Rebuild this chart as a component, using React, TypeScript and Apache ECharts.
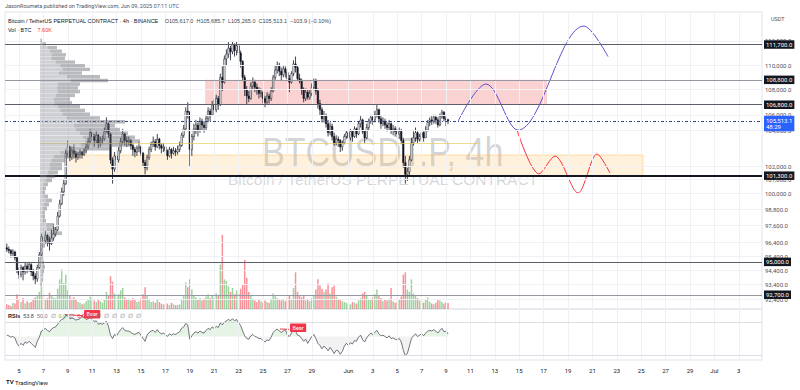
import { useEffect, useRef } from "react";
import * as echarts from "echarts";

// ---------- DATA ----------
// time unit: days of May 2025 (May 4 00:00 UTC = 4, Jun 1 = 32, Jul 1 = 62)
const START_DAY = 4;
const BAR_DAYS = 1 / 6; // 4h candles
const FIRST_OPEN = 96000;

const closes = [
  95900, 95800, 95600, 95700, 95300, 94400,
  94100, 94600, 94300, 94700, 94500, 94800,
  94300, 94000, 93800, 94600, 95500, 96800,
  96500, 96900, 96600, 96300, 96700, 97000,
  97300, 98300, 99200, 100100, 100700, 103000,
  103500, 102700, 103200, 103000, 102700, 102900,
  103100, 102900, 103200, 103500, 103900, 104600,
  104300, 104000, 104400, 103800, 104000, 104100,
  104700, 105300, 104500, 102500, 101800, 102800,
  102500, 103200, 103900, 104500, 104000, 103900,
  104000, 103600, 103300, 103100, 103400, 103500,
  103000, 102300, 101900, 102700, 103300, 103700,
  103900, 103500, 104100, 103600, 103400, 103500,
  103200, 102800, 103300, 103000, 103200, 103100,
  103300, 103600, 104400, 104900, 106300, 106200,
  103300, 104300, 104900, 105200, 104800, 105500,
  105200, 105000, 105700, 106300, 106000, 106800,
  106400, 107300, 106800, 109000, 108600, 110500,
  110900, 111400, 111100, 111700, 111200, 111600,
  111000, 110300, 109000, 108000, 107500, 107300,
  108300, 108600, 108200, 108000, 107700, 107800,
  107300, 107000, 107500, 107300, 107900, 109000,
  109600, 110000, 109500, 109200, 109700, 109400,
  108900, 108600, 109300, 110100, 109800, 108900,
  108700, 108000, 107300, 107800, 107400, 107700,
  108200, 108700, 107900, 106900, 106400, 105700,
  105900, 105300, 104600, 105100, 104300, 103800,
  104100, 104000, 103500, 103800, 104300, 104600,
  104200, 104700, 104300, 104900, 104500, 105300,
  105600, 104700, 104200, 105000, 105500, 105800,
  105600, 106000, 106400, 105700, 105300, 105500,
  105200, 105000, 105300, 104800, 104900, 104700,
  104500, 104700, 104000, 102300, 101400, 101600,
  102500, 103800, 104200, 104600, 104100, 104300,
  104600, 104200, 104800, 105400, 105600, 105500,
  105800, 105600, 105200, 105900, 106200, 105700,
  105617, 105513.1,
];
const highs = [
  96300, 96100, 95900, 95900, 95800, 95400,
  94600, 94800, 94700, 95000, 94900, 95000,
  94900, 94500, 94200, 94800, 95700, 97000,
  97100, 97200, 97000, 96800, 97300, 97700,
  97500, 98600, 99500, 100400, 101000, 103300,
  104000, 103600, 103500, 103700, 103200, 103100,
  103300, 103200, 103400, 103800, 104200, 104900,
  104800, 104500, 104700, 104500, 104300, 104400,
  105000, 105800, 105400, 104600, 102700, 103100,
  103100, 103500, 104200, 104900, 104600, 104300,
  104300, 104100, 103800, 103500, 103600, 103900,
  103600, 103100, 102500, 102900, 103500, 103900,
  104300, 104100, 104500, 104200, 103800, 103800,
  103600, 103300, 103500, 103400, 103500, 103400,
  103600, 103900, 104600, 105200, 106600, 107000,
  106300, 104500, 105300, 105600, 105400, 105800,
  105700, 105500, 106000, 106600, 106500, 107100,
  107200, 107600, 107500, 109300, 109900, 110800,
  111300, 111900, 111600, 111980, 111800, 111900,
  111700, 111200, 110400, 109200, 108300, 107900,
  108600, 109000, 108800, 108500, 108200, 108100,
  107900, 107500, 107800, 107700, 108200, 109200,
  110000, 110300, 110200, 109800, 110000, 109900,
  109600, 109200, 109500, 110400, 110700, 110000,
  109300, 108900, 108200, 108100, 108000, 108000,
  108500, 108900, 108900, 108100, 107200, 106600,
  106300, 106100, 105600, 105400, 105300, 104600,
  104400, 104300, 104100, 104000, 104500, 104800,
  104800, 104900, 104800, 105100, 105000, 105500,
  105900, 105700, 104800, 105300, 105700, 106000,
  106000, 106300, 106800, 106500, 105900, 105800,
  105700, 105400, 105600, 105400, 105200, 105100,
  105000, 105000, 104900, 104200, 102800, 101900,
  102800, 104200, 104700, 105000, 104700, 104500,
  104800, 104700, 105100, 105600, 105800, 105900,
  106000, 106000, 105800, 106100, 106400, 106300,
  105900, 105685.7,
];
const lows = [
  95700, 95600, 95300, 95400, 95100, 94200,
  93800, 93900, 93700, 94100, 94200, 94300,
  94000, 93700, 93400, 93600, 94500, 95400,
  96200, 96300, 96100, 95800, 96200, 96500,
  96800, 97200, 98200, 99100, 99800, 100600,
  102700, 102400, 102500, 102600, 102300, 102500,
  102600, 102600, 102800, 103000, 103300, 103800,
  104000, 103500, 103800, 103400, 103500, 103700,
  104000, 104600, 104200, 102200, 100700, 101600,
  101500, 102300, 103000, 103700, 103600, 103500,
  103600, 103300, 102800, 102700, 102800, 103100,
  102800, 102000, 101400, 101700, 102500, 103100,
  103500, 103200, 103400, 103300, 103000, 103100,
  102900, 102500, 102700, 102600, 102900, 102800,
  102900, 103100, 103500, 104200, 104800, 105700,
  102000, 102800, 104000, 104500, 104300, 104600,
  104800, 104600, 104800, 105400, 105500, 105900,
  106000, 106200, 106400, 106700, 107900, 108500,
  110000, 110600, 110400, 110900, 110700, 110800,
  110500, 109800, 108700, 107500, 106800, 107000,
  107200, 108000, 107800, 107600, 107300, 107400,
  106900, 106600, 106800, 106900, 107100, 107800,
  108800, 109300, 109100, 108700, 109000, 109000,
  108600, 107800, 108500, 109100, 109400, 108700,
  108500, 107600, 107000, 107100, 107200, 107200,
  107500, 108000, 107600, 106500, 106000, 105400,
  105400, 105000, 104300, 104400, 104000, 103600,
  103600, 103500, 103100, 103200, 103700, 104100,
  103900, 104000, 103900, 104200, 104200, 104400,
  105000, 104500, 103800, 104100, 104800, 105300,
  105200, 105400, 105800, 105400, 104900, 105100,
  104900, 104700, 104800, 104500, 104400, 104300,
  104200, 104100, 103700, 101900, 100700, 100900,
  101300, 102400, 103600, 103900, 103800, 103900,
  104100, 103900, 104200, 104700, 105100, 105200,
  105300, 105300, 105000, 105100, 105700, 105500,
  105100, 105265,
];
// volume, thousand BTC
const volumesK = [
  6, 5, 4, 8, 7, 19,
  12, 9, 14, 7, 10, 8,
  9, 13, 15, 18, 22, 29,
  16, 12, 14, 21, 18, 15,
  14, 26, 38, 51, 33, 44,
  24, 18, 13, 15, 12, 9,
  8, 6, 7, 10, 12, 16,
  14, 11, 9, 13, 10, 8,
  12, 22, 18, 42, 35, 20,
  16, 19, 24, 27, 15, 12,
  13, 11, 14, 12, 9, 10,
  14, 19, 28, 17, 13, 9,
  10, 8, 12, 9, 7, 6,
  6, 7, 5, 8, 6, 5,
  5, 6, 13, 18, 34, 28,
  38, 25, 17, 15, 12, 14,
  11, 13, 16, 19, 14, 17,
  15, 20, 17, 57, 95, 38,
  36, 29, 22, 27, 19, 24,
  20, 26, 32, 63, 40, 22,
  18, 13, 11, 9, 12, 10,
  8, 11, 9, 8, 13, 20,
  17, 14, 12, 11, 13, 10,
  15, 18, 13, 27, 47, 22,
  18, 15, 17, 11, 13, 10,
  14, 18, 25, 38, 30, 26,
  22, 25, 33, 20, 28, 30,
  16, 13, 12, 10, 9, 8,
  7, 6, 9, 8, 7, 11,
  14, 20, 22, 17, 13, 12,
  15, 19, 25, 18, 14, 10,
  12, 11, 13, 27, 10, 8,
  9, 12, 16, 44, 47, 25,
  22, 38, 20, 18, 14, 11,
  10, 8, 12, 15, 9, 7,
  6, 8, 12, 11, 9, 7,
  9, 7.6,
];
const rsiValues = [
  52, 51, 49, 50, 48, 40,
  36, 40, 37, 42, 40, 43,
  40, 37, 34, 43, 49, 58,
  60, 62, 59, 57, 61, 63,
  64, 68, 72, 75, 76, 81,
  80, 76, 77, 76, 74, 75,
  76, 80, 78, 75, 76, 78,
  75, 72, 73, 68, 69, 68,
  70, 72, 65, 52, 47, 53,
  51, 56, 60, 63, 59, 58,
  58, 56, 54, 53, 55, 56,
  52, 47, 43, 52, 56, 58,
  59, 56, 60, 56, 54, 55,
  53, 50, 54, 52, 54, 53,
  55, 57, 62, 64, 69, 67,
  46, 51, 55, 57, 55, 58,
  56, 55, 59, 62, 60, 64,
  62, 65, 63, 70, 67, 71,
  73, 75, 73, 76, 73, 75,
  70, 66, 58, 51, 47, 46,
  51, 53, 50, 49, 47, 47,
  44, 42, 45, 44, 49, 56,
  59, 61, 58, 56, 58, 60,
  52, 50, 55, 60, 58, 52,
  51, 47, 43, 46, 40, 45,
  50, 53, 47, 40, 37, 32,
  36, 33, 29, 34, 30, 25,
  30, 29, 24, 28, 36, 40,
  37, 41, 39, 44, 43, 49,
  52, 45, 42, 48, 52, 55,
  53, 56, 59, 54, 51, 52,
  50, 48, 51, 47, 48, 46,
  45, 47, 42, 30, 22, 25,
  36, 47, 51, 54, 50, 52,
  54, 51, 55, 58, 59, 58,
  60, 58, 55, 59, 62, 57,
  58, 53.8,
];

// visible-range volume profile: rows of 300 USDT from 93,300 upward (thousand BTC)
const PROFILE_LOW = 93300;
const PROFILE_STEP = 300;
const profileVolK = [
  2, 3, 3, 4, 5, 4, 3, 3, 2, 5, 10, 12, 22, 15, 14, 6, 5, 5, 7, 9, 12, 8,
  5, 6, 8, 12, 15, 18, 22, 22, 25, 30, 45, 70, 90, 100, 95, 88, 80, 75, 85,
  60, 50, 45, 40, 32, 30, 35, 40, 38, 40, 68, 60, 42, 50, 45, 35, 25, 26, 22,
  17, 6, 2,
];
const pocPrice = 103800;
const pocSpan = [6.7, 42.8];

const priceAxisLabels = [
  112000, 110000, 108000, 106000, 104800, 102000, 101000, 100000, 98800,
  97600, 96400, 95400, 94400, 93400, 92400,
];
const levelLines = [111700, 108800, 106800, 101300, 95000, 92700];
const lastPrice = 105513.1;
const countdown = "48:29";

const redZone = { from: 20.25, to: 48.28, top: 108800, bottom: 106800 };
const yellowZone = { from: 8.85, to: 56.15, top: 102870, bottom: 101300 };

const bullPath = [
  [41.0, 105513], [43.28, 108460], [45.9, 104800], [51.31, 113250], [53.28, 110700],
];
const bearPath = [
  [45.82, 104800], [47.62, 101430], [48.93, 102790], [50.82, 100000], [52.38, 102950], [53.44, 101500],
];
const rsiBearLines = [
  [[8.77, 82], [10.25, 80.5]],
  [[26.39, 61], [27.13, 60.5]],
];

const timeLabelDays = [5, 7, 9, 11, 13, 15, 17, 19, 21, 23, 25, 27, 29, 32, 34, 36, 38, 40, 42, 44, 46, 48, 50, 52, 54, 56, 58, 60, 62, 64];
const rsiAxisLabels = [80, 40, 20];
const rsiGridLines = [71, 23];

// ---------- LAYOUT ----------
const FONT = "Roboto, 'Liberation Sans', sans-serif";
const PLOT_L = 5;
const PLOT_W = 757;
const TOP = 12;
const SPLIT = 309;
const RSI_H = 51;
const XMIN = 3.8525;
const XMAX = 65.9016;
const PMIN = 91721;
const PMAX = 114441;
const RMIN = 15.59;
const RMAX = 90.26;

const fmt = (v: number) =>
  v.toLocaleString("en-US", { minimumFractionDigits: 1, maximumFractionDigits: 1 });

const dayLabel = (v: number) => {
  const d = Math.round(v);
  if (d === 32) return "Jun";
  if (d === 62) return "Jul";
  if (d > 62) return String(d - 61);
  if (d > 31) return String(d - 31);
  return String(d);
};

export default function App() {
  const ref = useRef<HTMLDivElement>(null);

  useEffect(() => {
    const chart = echarts.init(ref.current!, undefined, { renderer: "svg" });

    const candles = closes.map((c, i) => {
      const o = i === 0 ? FIRST_OPEN : closes[i - 1];
      return [START_DAY + i * BAR_DAYS, o, c, lows[i], highs[i]];
    });
    const vols = volumesK.map((v, i) => [START_DAY + i * BAR_DAYS, v, candles[i][2] >= candles[i][1] ? 1 : 0]);
    const rsi = rsiValues.map((r, i) => [START_DAY + i * BAR_DAYS, r]);
    const rsiAbove = rsi.map(([x, r]) => [x, Math.max(r, 50)]);
    const rsiBelow = rsi.map(([x, r]) => [x, Math.min(r, 50)]);
    const profile = profileVolK.map((v, k) => [PROFILE_LOW + k * PROFILE_STEP, PROFILE_LOW + (k + 1) * PROFILE_STEP, v]);

    const smallLabel = { fontSize: 6, fontFamily: FONT };
    const blackLabel = (v: number) => ({
      show: true,
      position: "end",
      distance: 2,
      formatter: fmt(v),
      color: "#ffffff",
      backgroundColor: "#131722",
      padding: [1.5, 2, 1, 2],
      ...smallLabel,
    });
    const levelStyle: Record<number, any> = {
      111700: { color: "#5d606b", width: 1 },
      108800: { color: "#9598a1", width: 1 },
      106800: { color: "#5d606b", width: 1 },
      101300: { color: "#131722", width: 2 },
      95000: { color: "#5d606b", width: 1 },
      92700: { color: "#9598a1", width: 1 },
    };

    const option: any = {
      animation: false,
      textStyle: { fontFamily: FONT },
      grid: [
        { left: PLOT_L, top: TOP, width: PLOT_W, height: SPLIT - TOP, show: true, borderColor: "#e0e3eb", borderWidth: 1 },
        { left: PLOT_L, top: 231, width: PLOT_W, height: SPLIT - 231, show: false },
        { left: 40, top: TOP, width: 300, height: SPLIT - TOP, show: false },
        { left: PLOT_L, top: SPLIT, width: PLOT_W, height: RSI_H, show: true, borderColor: "#e0e3eb", borderWidth: 1 },
      ],
      xAxis: [
        { gridIndex: 0, type: "value", min: XMIN, max: XMAX, show: false },
        { gridIndex: 1, type: "value", min: XMIN, max: XMAX, show: false },
        { gridIndex: 2, type: "value", min: 0, max: 300, show: false },
        {
          gridIndex: 3, type: "value", min: XMIN, max: XMAX,
          axisLine: { show: false }, axisTick: { show: false }, splitLine: { show: false },
          axisLabel: { customValues: timeLabelDays, formatter: dayLabel, fontSize: 6, color: "#131722", margin: 7, fontFamily: FONT },
        },
      ],
      yAxis: [
        { gridIndex: 0, type: "log", min: PMIN, max: PMAX, show: false },
        { gridIndex: 1, type: "value", min: 0, max: 100, show: false },
        { gridIndex: 2, type: "log", min: PMIN, max: PMAX, show: false },
        { gridIndex: 3, type: "value", min: RMIN, max: RMAX, show: false },
      ],
      graphic: [
        {
          type: "text", left: 5, top: 3, z: 10,
          style: { text: "JasonRoumeta published on TradingView.com, Jun 09, 2025 07:11 UTC", fontSize: 5.5, fill: "#50535e", fontFamily: FONT },
        },
        {
          type: "text", left: 8, top: 15, z: 10,
          style: {
            text: "{t|Bitcoin / TetherUS PERPETUAL CONTRACT · 4h · BINANCE}  {v|O105,617.0  H105,685.7  L105,265.0  C105,513.1  −103.9 (−0.10%)}",
            fontFamily: FONT,
            rich: { t: { fontSize: 5.5, fill: "#131722" }, v: { fontSize: 5.5, fill: "#434651" } },
          },
        },
        {
          type: "text", left: 8, top: 24, z: 10,
          style: { text: "{t|Vol · BTC}  {r|7.60K}", fontFamily: FONT, rich: { t: { fontSize: 5.5, fill: "#131722" }, r: { fontSize: 5.5, fill: "#f23645" } } },
        },
        {
          type: "text", x: 262, y: 152, scaleX: 0.83, z: 0,
          style: { text: "BTCUSDT.P, 4h", fontSize: 41, fontFamily: "'Liberation Sans', Arial, sans-serif", fill: "rgba(120,123,134,0.33)", verticalAlign: "middle", align: "left" },
        },
        {
          type: "text", x: 228, y: 179, z: 0,
          style: { text: "Bitcoin / TetherUS PERPETUAL CONTRACT", fontSize: 15.5, fontFamily: "'Liberation Sans', Arial, sans-serif", fill: "rgba(120,123,134,0.33)", verticalAlign: "middle", align: "left" },
        },
        {
          type: "text", x: 771, y: 19, z: 10,
          style: { text: "USDT", fontSize: 5.5, fill: "#50535e", fontFamily: FONT, verticalAlign: "middle" },
        },
        {
          type: "text", x: 8, y: 316, z: 10,
          style: {
            text: "{b|RSIs} {g|53.8} {l|50.0} {l|∅} {gr|0.0} {l|∅} {r|0.0} {l|∅  ∅  ∅  ∅  ∅  ∅  ∅}",
            verticalAlign: "middle", fontFamily: FONT,
            rich: {
              b: { fontSize: 5.5, fill: "#131722", fontWeight: "bold" },
              g: { fontSize: 5.5, fill: "#434651" },
              l: { fontSize: 5.5, fill: "#787b86" },
              gr: { fontSize: 5.5, fill: "#4caf50" },
              r: { fontSize: 5.5, fill: "#f23645" },
            },
          },
        },
        {
          type: "text", x: 6, y: 382, z: 10,
          style: { text: "{l|TV} TradingView", verticalAlign: "middle", fontFamily: FONT, fontSize: 6, fill: "#131722", rich: { l: { fontSize: 6, fontWeight: "bold", fill: "#131722" } } },
        },
      ],
      series: [
        // background: zones, grid lines, axis labels
        {
          type: "line", xAxisIndex: 0, yAxisIndex: 0, data: [], z: 1, silent: true,
          markArea: {
            silent: true,
            data: [
              [
                { xAxis: redZone.from, yAxis: redZone.top, itemStyle: { color: "rgba(239,83,80,0.26)" } },
                { xAxis: redZone.to, yAxis: redZone.bottom },
              ],
              [
                { xAxis: yellowZone.from, yAxis: yellowZone.top, itemStyle: { color: "rgba(255,183,77,0.2)", borderColor: "rgba(255,183,77,0.45)", borderWidth: 1 } },
                { xAxis: yellowZone.to, yAxis: yellowZone.bottom },
              ],
            ],
          },
          markLine: {
            silent: true, symbol: ["none", "none"],
            data: [
              ...timeLabelDays.map((d) => ({ xAxis: d, lineStyle: { color: "#f0f1f4", width: 1, type: "solid" }, label: { show: false } })),
              ...priceAxisLabels.map((p) => ({
                yAxis: p,
                lineStyle: { color: "#f0f1f4", width: 1, type: "solid" },
                label: { show: true, position: "end", distance: 3, formatter: fmt(p), color: "#50535e", ...smallLabel },
              })),
              [
                { coord: [pocSpan[0], pocPrice], lineStyle: { color: "rgba(230,205,100,0.7)", width: 1, type: "solid" }, label: { show: false } },
                { coord: [pocSpan[1], pocPrice] },
              ],
            ],
          },
        },
        // candles
        {
          type: "custom", xAxisIndex: 0, yAxisIndex: 0, z: 3, silent: true,
          data: candles,
          encode: { x: 0, y: [1, 2, 3, 4] },
          renderItem: (_p: any, api: any) => {
            const x = api.value(0), o = api.value(1), c = api.value(2), l = api.value(3), h = api.value(4);
            const pO = api.coord([x, o]), pC = api.coord([x, c]), pL = api.coord([x, l]), pH = api.coord([x, h]);
            const w = 1.5;
            const top = Math.min(pO[1], pC[1]);
            const hgt = Math.max(Math.abs(pO[1] - pC[1]), 0.8);
            return {
              type: "group",
              children: [
                { type: "line", shape: { x1: pH[0], y1: pH[1], x2: pL[0], y2: pL[1] }, style: { stroke: "#131722", lineWidth: 0.8 } },
                { type: "rect", shape: { x: pO[0] - w / 2, y: top, width: w, height: hgt }, style: { fill: c >= o ? "#ffffff" : "#131722", stroke: "#131722", lineWidth: 0.5 } },
              ],
            };
          },
        },
        // levels
        {
          type: "line", xAxisIndex: 0, yAxisIndex: 0, data: [], z: 4, silent: true,
          markLine: {
            silent: true, symbol: ["none", "none"],
            data: [
              ...levelLines.map((p) => ({ yAxis: p, lineStyle: { ...levelStyle[p], type: "solid" }, label: blackLabel(p) })),
              {
                yAxis: lastPrice,
                lineStyle: { color: "#35478c", width: 1, type: [3, 2, 1, 2] },
                label: {
                  show: true, position: "end", distance: 2,
                  formatter: fmt(lastPrice) + "\n" + countdown,
                  color: "#ffffff", backgroundColor: "#2962ff", padding: [1.5, 2, 1, 2], lineHeight: 6.5,
                  offset: [0, 2.5],
                  ...smallLabel,
                },
              },
            ],
          },
        },
        // projections
        {
          type: "line", xAxisIndex: 0, yAxisIndex: 0, z: 4, data: bullPath, smooth: 0.35, showSymbol: false, symbol: "none",
          lineStyle: { color: "#5b4fd0", width: 1 },
        },
        {
          type: "line", xAxisIndex: 0, yAxisIndex: 0, z: 4, data: bearPath, smooth: 0.3, showSymbol: false, symbol: "none",
          lineStyle: { color: "#f23645", width: 1 },
        },
        // volume profile
        {
          type: "custom", xAxisIndex: 2, yAxisIndex: 2, z: 5, silent: true,
          data: profile,
          encode: { x: 2, y: 0 },
          renderItem: (_p: any, api: any) => {
            const lo = api.value(0), hi = api.value(1), v = api.value(2);
            const p0 = api.coord([0, lo]);
            const p1 = api.coord([v, hi]);
            const pm = api.coord([v * 0.45, hi]);
            const y = p1[1] + 0.15;
            const h = Math.max(p0[1] - p1[1] - 0.3, 0.5);
            return {
              type: "group",
              children: [
                { type: "rect", shape: { x: p0[0], y, width: pm[0] - p0[0], height: h }, style: { fill: "rgba(150,153,162,0.45)" } },
                { type: "rect", shape: { x: pm[0], y, width: p1[0] - pm[0], height: h }, style: { fill: "rgba(100,102,110,0.45)" } },
              ],
            };
          },
        },
        // volume
        {
          type: "custom", xAxisIndex: 1, yAxisIndex: 1, z: 2, silent: true,
          data: vols,
          encode: { x: 0, y: 1 },
          renderItem: (_p: any, api: any) => {
            const x = api.value(0), v = api.value(1), up = api.value(2);
            const b = api.coord([x, 0]), t = api.coord([x, v]);
            return {
              type: "rect",
              shape: { x: b[0] - 0.75, y: t[1], width: 1.5, height: b[1] - t[1] },
              style: { fill: up ? "rgba(76,175,80,0.55)" : "rgba(242,54,69,0.55)" },
            };
          },
        },
        // RSI fills
        {
          type: "line", xAxisIndex: 3, yAxisIndex: 3, data: rsiAbove, showSymbol: false, symbol: "none", z: 2,
          lineStyle: { width: 0, opacity: 0 }, areaStyle: { origin: 50, color: "rgba(76,175,80,0.2)" },
          markLine: {
            silent: true, symbol: ["none", "none"],
            data: [
              ...timeLabelDays.map((d) => ({ xAxis: d, lineStyle: { color: "#f0f1f4", width: 1, type: "solid" }, label: { show: false } })),
              ...rsiGridLines.map((r) => ({ yAxis: r, lineStyle: { color: "#dcdee4", width: 1, type: "solid" }, label: { show: false } })),
              ...rsiAxisLabels.map((r) => ({
                yAxis: r, lineStyle: { opacity: 0 },
                label: { show: true, position: "end", distance: 3, formatter: r.toFixed(1), color: "#50535e", ...smallLabel },
              })),
            ],
          },
        },
        {
          type: "line", xAxisIndex: 3, yAxisIndex: 3, data: rsiBelow, showSymbol: false, symbol: "none", z: 2,
          lineStyle: { width: 0, opacity: 0 }, areaStyle: { origin: 50, color: "rgba(120,123,134,0.14)" },
        },
        {
          type: "line", xAxisIndex: 3, yAxisIndex: 3, data: rsi, showSymbol: false, symbol: "none", z: 3,
          lineStyle: { color: "#50535e", width: 0.8 },
        },
        ...rsiBearLines.map((seg) => ({
          type: "line", xAxisIndex: 3, yAxisIndex: 3, data: seg, showSymbol: false, symbol: "none", z: 4,
          lineStyle: { color: "#f23645", width: 1 },
          markPoint: {
            silent: true, symbol: "rect", symbolSize: 0,
            data: [{ coord: seg[1] }],
            label: {
              show: true, formatter: "Bear", position: "right", distance: 1, offset: [0, -1.5],
              color: "#ffffff", backgroundColor: "#f23645", padding: [1.5, 2.5, 1, 2.5], borderRadius: 1,
              fontSize: 5.5, fontFamily: FONT,
            },
          },
        })),
      ],
    };

    chart.setOption(option);
    return () => chart.dispose();
  }, []);

  return (
    <div
      ref={ref}
      style={{ position: "fixed", left: 0, top: 0, width: 800, height: 390, background: "#ffffff" }}
    />
  );
}
